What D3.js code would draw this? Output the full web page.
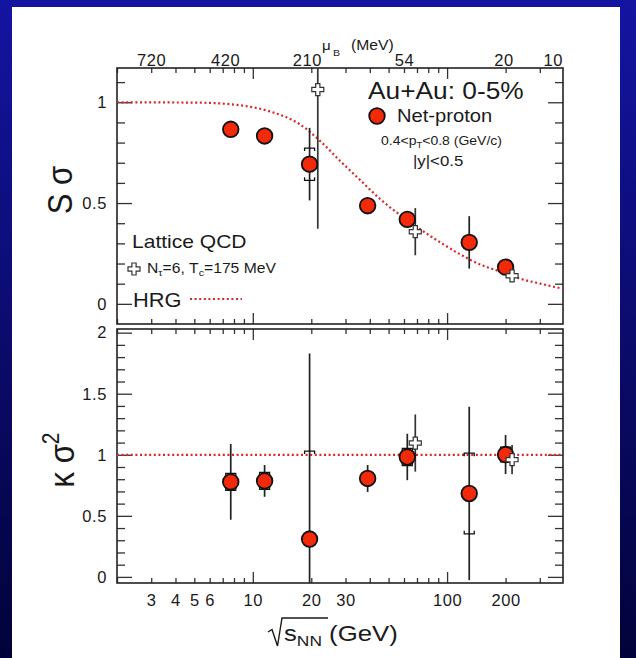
<!DOCTYPE html>
<html><head><meta charset="utf-8">
<script src="https://cdn.jsdelivr.net/npm/d3@7"></script>
<style>body{margin:0;padding:0;overflow:hidden;background:#fff;} svg{display:block;} text{font-family:"Liberation Sans",Arial,sans-serif;}</style>
</head><body>
<svg id="c" width="636" height="658"></svg>
<script>
// ---------------- data ----------------
const energies = [7.7, 11.5, 19.6, 39, 62.4, 130, 200];
const sSigma = [0.866, 0.833, 0.693, 0.487, 0.419, 0.305, 0.182];
const sSigmaStat = [0.02, 0.02, 0.18, 0.03, 0.03, 0.13, 0.02];
const sSigmaSys = [0.02, 0.02, 0.08, 0.02, 0.02, 0.03, 0.02];
const kSigma2 = [0.778, 0.786, 0.31, 0.806, 0.982, 0.683, 1.002];
const kSigma2Stat = [0.31, 0.13, 1.52, 0.11, 0.19, 0.71, 0.16];
const kSigma2Sys = [0.07, 0.07, 0.72, 0.03, 0.07, 0.33, 0.06];
const latticeEnergies = [21.6, 68.6, 216];
const latticeS = [1.063, 0.358, 0.139];
const latticeSErr = [0.69, 0.117, 0.01];
const latticeKEnergies = [68.6, 216];
const latticeK = [1.096, 0.96];
const latticeKErr = [0.234, 0.12];
const hrgEnergies = [2, 5.3, 8.6, 12.2, 17.5, 22.1, 28.1, 35.6, 45.2, 57.4, 72.7, 92.2, 117, 148, 188, 237, 302, 395];
const hrgS = [1.0, 0.998, 0.985, 0.955, 0.89, 0.81, 0.71, 0.615, 0.52, 0.44, 0.37, 0.305, 0.245, 0.195, 0.16, 0.125, 0.1, 0.075];
const hrgK = 1.0;
const xTickLabels = [3, 4, 5, 6, 10, 20, 30, 100, 200];
const xMajorTicks = [10, 100];
const xMinorTicks = [2,3,4,5,6,7,8,9,20,30,40,50,60,70,80,90,200,300];
const muBLabels = ["720", "420", "210", "54", "20", "10"];
const muBPositions = [3, 7.2, 19, 60, 195, 350];
const yUpperMajor = [0, 0.5, 1];
const yLowerMajor = [0, 0.5, 1, 1.5, 2];

// ---------------- setup ----------------
const W = 636, H = 658, SX = 1.12;
const svg = d3.select("#c");
const defs = svg.append("defs");
const grad = defs.append("linearGradient").attr("id", "bg").attr("x1", 0).attr("y1", 0).attr("x2", 0).attr("y2", 1);
grad.append("stop").attr("offset", "0%").attr("stop-color", "#1414a2");
grad.append("stop").attr("offset", "100%").attr("stop-color", "#02023a");
svg.append("rect").attr("width", W).attr("height", H).attr("fill", "url(#bg)");
svg.append("rect").attr("x", 12).attr("y", 7).attr("width", 608).attr("height", H - 7).attr("fill", "#fff");

const x = d3.scaleLog().domain([2, 395]).range([117, 563]);
const yU = d3.scaleLinear().domain([-0.1, 1.17]).range([324, 68]);
const yL = d3.scaleLinear().domain([-0.05, 2.03]).range([583, 329]);

function clip(id, y) {
  defs.append("clipPath").attr("id", id).append("rect")
    .attr("x", x.range()[0]).attr("y", y.range()[1])
    .attr("width", x.range()[1] - x.range()[0]).attr("height", y.range()[0] - y.range()[1]);
}
clip("cu", yU); clip("cl", yL);

const RED = "#f22a0a", CURVE = "#d8282c", INK = "#1a1a1a";
const FONT = '"Liberation Sans",Arial,sans-serif';

function axes(y, majors, minors, bottomLabels) {
  const g = svg.append("g").attr("stroke-width", 1.3);
  const [x0, x1] = x.range();
  const yb = y.range()[0], yt = y.range()[1];
  const noDom = s => s.select(".domain").remove();
  g.append("g").attr("transform", `translate(0,${yb})`)
    .call(d3.axisBottom(x).tickValues(xMinorTicks).tickSize(-5).tickFormat("")).call(noDom);
  g.append("g").attr("transform", `translate(0,${yb})`)
    .call(d3.axisBottom(x).tickValues(xMajorTicks).tickSize(-11).tickFormat("")).call(noDom);
  g.append("g").attr("transform", `translate(0,${yt})`)
    .call(d3.axisTop(x).tickValues(xMinorTicks).tickSize(-5).tickFormat("")).call(noDom);
  g.append("g").attr("transform", `translate(0,${yt})`)
    .call(d3.axisTop(x).tickValues(xMajorTicks).tickSize(-11).tickFormat("")).call(noDom);
  g.append("g").attr("transform", `translate(${x0},0)`)
    .call(d3.axisLeft(y).tickValues(minors).tickSize(-8).tickFormat("")).call(noDom);
  g.append("g").attr("transform", `translate(${x1},0)`)
    .call(d3.axisRight(y).tickValues(minors).tickSize(-8).tickFormat("")).call(noDom);
  g.append("g").attr("transform", `translate(${x1},0)`)
    .call(d3.axisRight(y).tickValues(majors).tickSize(-15).tickFormat("")).call(noDom);
  const yl = g.append("g").attr("transform", `translate(${x0},0)`)
    .call(d3.axisLeft(y).tickValues(majors).tickSize(-15).tickPadding(10).tickFormat(d3.format(""))).call(noDom);
  yl.selectAll("text").attr("font-size", 16.5).attr("fill", INK).attr("font-family", FONT).attr("letter-spacing", "0.6px");
  g.selectAll("line").attr("stroke", "#333");
  svg.append("rect").attr("x", x0).attr("y", yt).attr("width", x1 - x0).attr("height", yb - yt)
    .attr("fill", "none").attr("stroke", "#222").attr("stroke-width", 1.6);
  if (bottomLabels) {
    const xl = svg.append("g").attr("transform", `translate(0,${yb})`)
      .call(d3.axisBottom(x).tickValues(xTickLabels).tickSize(0).tickPadding(11).tickFormat(d3.format(""))).call(noDom);
    xl.selectAll("text").attr("font-size", 16.5).attr("fill", INK).attr("font-family", FONT).attr("letter-spacing", "0.6px");
  }
}
const minorU = d3.range(0, 12).map(i => +(i * 0.1).toFixed(1)).filter(v => !yUpperMajor.includes(v));
const minorL = d3.range(0, 21).map(i => +(i * 0.1).toFixed(1)).filter(v => !yLowerMajor.includes(v));

function crossPath(s, a) {
  return `M${-a},${-s}H${a}V${-a}H${s}V${a}H${a}V${s}H${-a}V${a}H${-s}V${-a}H${-a}Z`;
}

function panel(y, clipId, vals, stat, sys, latE, latV, latErr, hrgLine) {
  const g = svg.append("g").attr("clip-path", `url(#${clipId})`);
  g.append("path").datum(hrgLine).attr("fill", "none").attr("stroke", CURVE)
    .attr("stroke-width", 2.2).attr("stroke-dasharray", "2,2.6")
    .attr("d", d3.line().x(d => x(d[0])).y(d => y(d[1])).curve(d3.curveMonotoneX));
  g.selectAll(".eb").data(energies).join("line")
    .attr("x1", d => x(d)).attr("x2", d => x(d))
    .attr("y1", (d, i) => y(vals[i] - stat[i])).attr("y2", (d, i) => y(vals[i] + stat[i]))
    .attr("stroke", "#222").attr("stroke-width", 1.7);
  g.selectAll(".lb").data(latE).join("line")
    .attr("x1", d => x(d)).attr("x2", d => x(d))
    .attr("y1", (d, i) => y(latV[i] - latErr[i])).attr("y2", (d, i) => y(latV[i] + latErr[i]))
    .attr("stroke", "#333").attr("stroke-width", 1.7);
  energies.forEach((e, i) => {
    const cx = x(e), hw = 5, leg = 3;
    const yt = y(vals[i] + sys[i]), yb = y(vals[i] - sys[i]);
    g.append("path").attr("fill", "none").attr("stroke", "#111").attr("stroke-width", 1.3)
      .attr("d", `M${cx - hw},${yt + leg}V${yt}H${cx + hw}V${yt + leg}M${cx - hw},${yb - leg}V${yb}H${cx + hw}V${yb - leg}`);
  });
  g.selectAll(".pt").data(energies).join("circle")
    .attr("cx", d => x(d)).attr("cy", (d, i) => y(vals[i])).attr("r", 7.8)
    .attr("fill", RED).attr("stroke", "#111").attr("stroke-width", 1.8);
  g.selectAll(".lc").data(latE).join("path")
    .attr("transform", (d, i) => `translate(${x(d)},${y(latV[i])})`)
    .attr("d", crossPath(6, 2.1)).attr("fill", "#fff").attr("stroke", "#333").attr("stroke-width", 1.2);
}

axes(yU, yUpperMajor, minorU, false);
axes(yL, yLowerMajor, minorL, true);

panel(yU, "cu", sSigma, sSigmaStat, sSigmaSys, latticeEnergies, latticeS, latticeSErr,
  hrgEnergies.map((e, i) => [e, hrgS[i]]));
panel(yL, "cl", kSigma2, kSigma2Stat, kSigma2Sys, latticeKEnergies, latticeK, latticeKErr,
  [[x.domain()[0], hrgK], [x.domain()[1], hrgK]]);

const mu = svg.append("g").attr("transform", `translate(0,${yU.range()[1]})`)
  .call(d3.axisTop(x).tickValues(muBPositions).tickSize(0).tickPadding(2).tickFormat((d, i) => muBLabels[i]));
mu.select(".domain").remove();
mu.selectAll("text").attr("font-size", 16.5).attr("fill", INK).attr("font-family", FONT).attr("letter-spacing", "0.6px");

// ---------------- texts ----------------
function label(px, py, size, segs, anchor, rot) {
  const tr = rot ? `translate(${px},${py}) rotate(-90) scale(1,${SX})` : `translate(${px},${py}) scale(${SX},1)`;
  const g = svg.append("g").attr("transform", tr);
  const t = g.append("text").attr("font-size", size).attr("text-anchor", anchor || "start").attr("fill", INK);
  segs.forEach(s => {
    const ts = t.append("tspan").text(s.t);
    if (s.size) ts.attr("font-size", s.size);
    if (s.dy) ts.attr("dy", s.dy);
  });
  return g;
}
label(322, 50, 13.5, [{t: "μ"}]);
label(333, 56, 9.5, [{t: "B"}]);
label(351, 50, 14, [{t: "(MeV)"}]);

label(368, 99, 23.5, [{t: "Au+Au: 0-5%"}]);
svg.append("circle").attr("cx", 377).attr("cy", 116).attr("r", 7.8).attr("fill", RED).attr("stroke", "#111").attr("stroke-width", 1.8);
label(397, 122, 18, [{t: "Net-proton"}]);
label(381, 145, 12.5, [{t: "0.4<p"}, {t: "T", size: 8.5, dy: 3}, {t: "<0.8 (GeV/c)", dy: -3}]);
label(413, 166, 15, [{t: "|y|<0.5"}]);

label(132, 248, 18.8, [{t: "Lattice QCD"}]);
svg.append("path").attr("transform", "translate(134,269)").attr("d", crossPath(6, 2.1))
  .attr("fill", "#fff").attr("stroke", "#333").attr("stroke-width", 1.2);
label(147, 273, 14, [{t: "N"}, {t: "τ", size: 9.5, dy: 3}, {t: "=6, T", dy: -3}, {t: "c", size: 9.5, dy: 3}, {t: "=175 MeV", dy: -3}]);
label(133, 306.5, 19.5, [{t: "HRG"}]);
svg.append("line").attr("x1", 190).attr("x2", 242).attr("y1", 299).attr("y2", 299)
  .attr("stroke", CURVE).attr("stroke-width", 2.2).attr("stroke-dasharray", "2,2.6");

label(72, 190, 31, [{t: "S σ"}], "middle", true);
label(74, 460, 31, [{t: "κ σ"}, {t: "2", size: 21, dy: -13}], "middle", true);

label(284, 641, 23, [{t: "s"}, {t: "NN", size: 15.5, dy: 5}, {t: " (GeV)", dy: -5}]);
svg.append("path").attr("fill", "none").attr("stroke", INK).attr("stroke-width", 1.4)
  .attr("d", "M268,632 L272,629.5 L277.5,646 L282,618 L328,618");
</script>
</body></html>
